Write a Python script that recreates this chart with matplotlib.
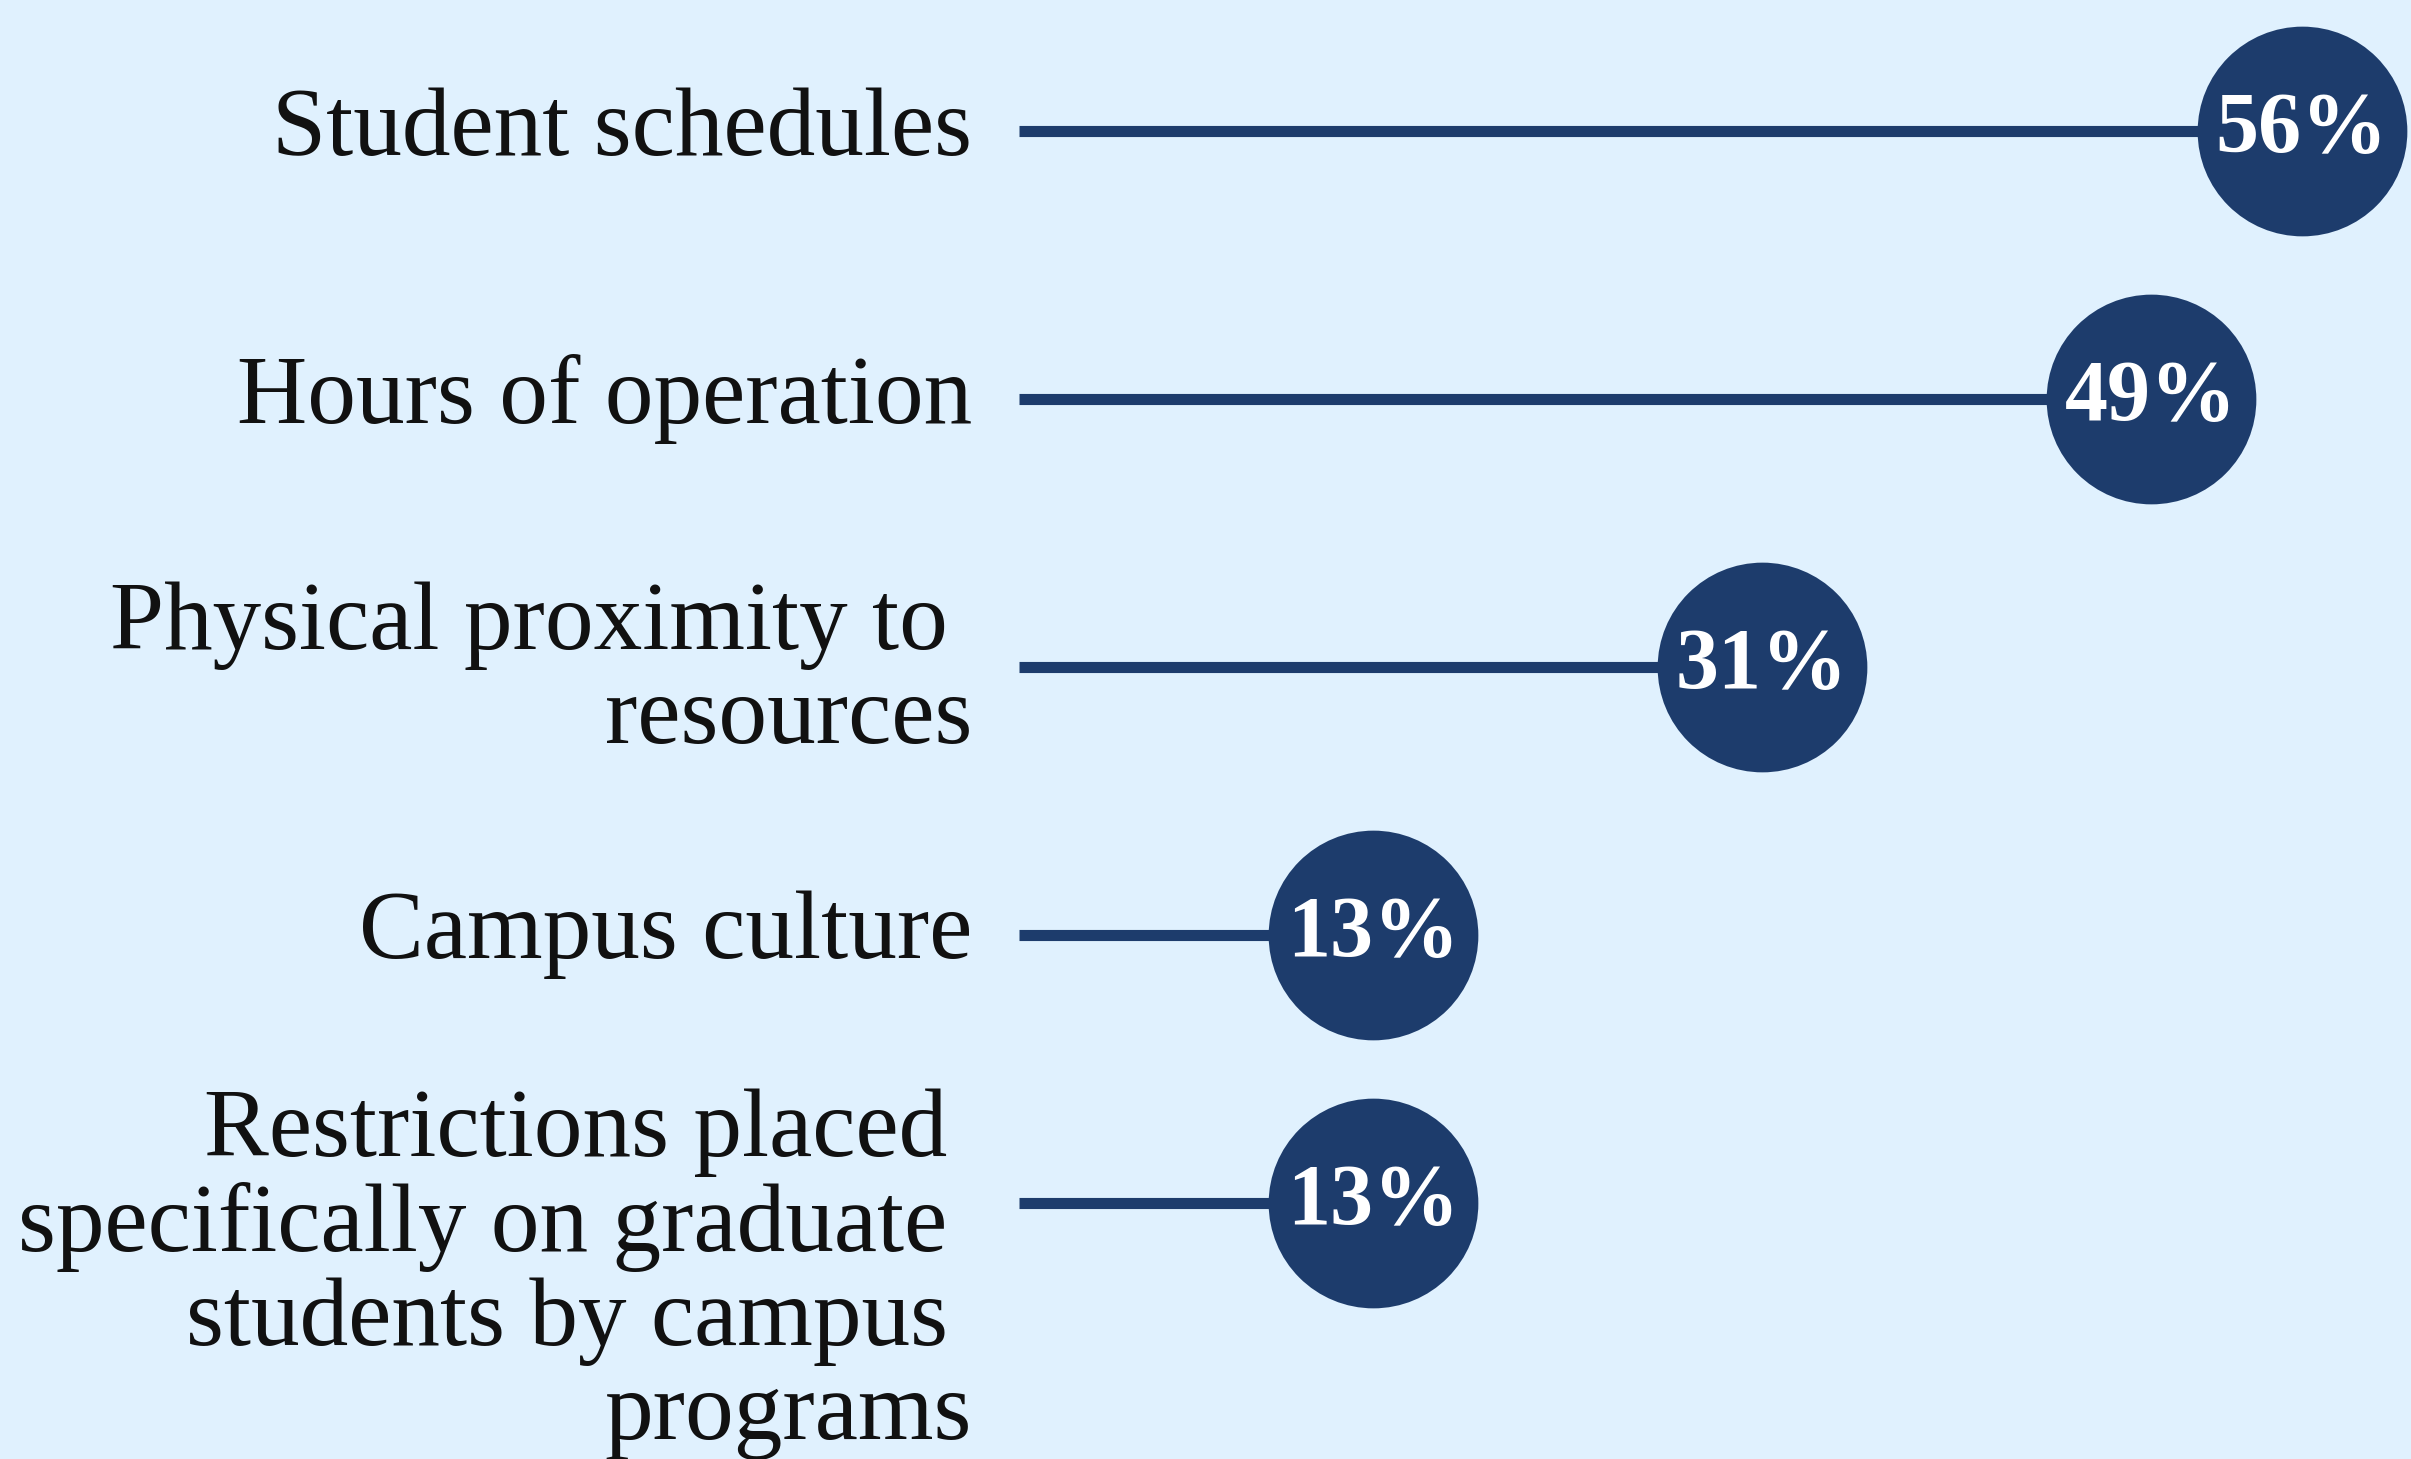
import matplotlib.pyplot as plt

# 数据
labels = [
    'Student schedules',
    'Hours of operation',
    'Physical proximity to \nresources',
    'Campus culture',
    'Restrictions placed \nspecifically on graduate \nstudents by campus \nprograms',
]
values = [56, 49, 31, 13, 13]
value_text = ['56%', '49%', '31%', '13%', '13%']

bg = '#E0F1FE'
navy = '#1D3C6C'

fig = plt.figure(figsize=(24.11, 14.59), dpi=100, facecolor=bg)
ax = fig.add_axes([0, 0, 1, 1])
ax.set_facecolor(bg)
ax.set_xlim(-50.56, 61.06)
ax.set_ylim(4.955, -0.49)
ax.axis('off')

line_start = -3.38
label_x = -5.56
for i, (lab, v, t) in enumerate(zip(labels, values, value_text)):
    ax.plot([line_start, v], [i, i], color=navy, linewidth=8, solid_capstyle='butt', zorder=1)
    ax.plot(v, i, 'o', markersize=151, color=navy, markeredgewidth=0, zorder=2)
    ax.text(v, i, t, ha='center', va='center', color='white', fontsize=62,
            fontweight='bold', family='Liberation Serif', zorder=3)
    # 多行标签的偏移
    dy = 0
    if lab.count('\n') >= 3:
        dy = -51
    elif lab.count('\n') == 1:
        dy = -4
    ax.annotate(lab, (label_x, i), xytext=(0, dy), textcoords='offset points',
                ha='right', va='center', fontsize=70, family='Liberation Serif',
                color='#111111', linespacing=1.08, multialignment='right')

fig.savefig('out.png', dpi=100, facecolor=bg)
